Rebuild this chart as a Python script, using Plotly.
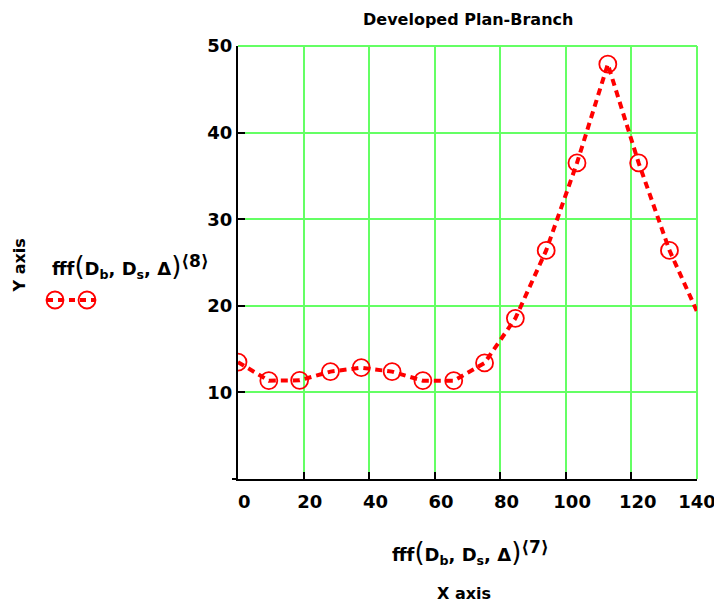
import plotly.graph_objects as go

# ---- data ----
x_vals = [0, 9.4, 18.8, 28.2, 37.6, 47.0, 56.4, 65.8, 75.2, 84.6, 94.0, 103.4, 112.8, 122.2, 131.6, 141.0]
y_vals = [13.5, 11.35, 11.4, 12.4, 12.85, 12.4, 11.35, 11.35, 13.4, 18.55, 26.4, 36.5, 47.9, 36.5, 26.4, 18.5]
x_ticks = [0, 20, 40, 60, 80, 100, 120, 140]
x_tick_labels = ["0", "20", "40", "60", "80", "100", "120", "140"]
y_ticks = [10, 20, 30, 40, 50]
x_range = [0, 140]
y_range = [0, 50]

title_text = "Developed Plan-Branch"
BIGP_L = "<span style='font-size:26px;font-weight:normal'>(</span>"
BIGP_R = "<span style='font-size:26px;font-weight:normal'>)</span>"
series_label = (f"fff{BIGP_L}D<sub>b</sub>, D<sub>s</sub>, Δ{BIGP_R}"
                "<sup><span style='font-size:17px'>⟨8⟩</span></sup>")
x_label_fn = (f"fff{BIGP_L}D<sub>b</sub>, D<sub>s</sub>, Δ{BIGP_R}"
              "<sup><span style='font-size:17px'>⟨7⟩</span></sup>")

FONT = "DejaVu Sans"
RED = "#ff0000"
GREEN = "#64ff64"

# page offset (body margin) compensation; keep page free of a vertical scrollbar
OFF = 8
W, H = 722 - OFF, 611 - 2 * OFF
# plot area in page pixels: x 238..697, y 46..479
L, T = 238 - OFF, 46 - OFF
R = W - (697 - OFF)
B = H - (479 - OFF)
PW, PH = W - L - R, H - T - B


def px(x):
    """page pixel x -> paper"""
    return (x - OFF - L) / PW


def py(y):
    """page pixel y -> paper"""
    return (H - B - (y - OFF)) / PH


# labels sit a little right of their ticks (the last one stays centred so it fits)
NB = "\u00a0"
x_tick_text = [(NB * 2 + t) if v < x_range[1] else t for v, t in zip(x_ticks, x_tick_labels)]

fig = go.Figure()

fig.add_trace(go.Scatter(
    x=x_vals, y=y_vals, mode="lines",
    line=dict(color=RED, width=4, dash="7px,5px"),
    showlegend=False, hoverinfo="skip",
))
mx = [x for x in x_vals if x <= x_range[1]]
my = [y for x, y in zip(x_vals, y_vals) if x <= x_range[1]]
fig.add_trace(go.Scatter(
    x=mx, y=my, mode="markers",
    marker=dict(symbol="circle-open", size=17, color=RED, line=dict(color=RED, width=1.8)),
    showlegend=False,
))

axis_common = dict(
    showline=True, linecolor="black", linewidth=2,
    ticks="inside", ticklen=7, tickwidth=2, tickcolor="black",
    showgrid=True, gridcolor=GREEN, gridwidth=2,
    zeroline=False,
    ticklabeloverflow="allow",
    tickfont=dict(family=FONT, size=18, color="black", weight="bold"),
)

fig.update_xaxes(range=x_range, tickvals=x_ticks, ticktext=x_tick_text,
                 ticklabelstandoff=5, **axis_common)
fig.update_yaxes(range=y_range, tickvals=y_ticks, ticklabelstandoff=0,
                 **axis_common)

annotations = [
    dict(text=f"<b>{title_text}</b>", x=0.5, y=py(20), xref="paper", yref="paper",
         showarrow=False, font=dict(family=FONT, size=16, color="black"),
         xanchor="center", yanchor="middle"),
    dict(text=f"<b>{x_label_fn}</b>", x=px(470), y=py(552), xref="paper", yref="paper",
         showarrow=False, font=dict(family=FONT, size=18, color="black"),
         xanchor="center", yanchor="middle"),
    dict(text="<b>X axis</b>", x=px(464), y=py(593), xref="paper", yref="paper",
         showarrow=False, font=dict(family=FONT, size=16, color="black"),
         xanchor="center", yanchor="middle"),
    dict(text="<b>Y axis</b>", x=px(18.5), y=py(266), xref="paper", yref="paper",
         showarrow=False, textangle=-90, font=dict(family=FONT, size=16, color="black"),
         xanchor="center", yanchor="middle"),
    dict(text=f"<b>{series_label}</b>", x=px(130), y=py(266), xref="paper", yref="paper",
         showarrow=False, font=dict(family=FONT, size=18, color="black"),
         xanchor="center", yanchor="middle"),
]

shapes = [
    # grid lines on the range edges (top and right)
    dict(type="line", xref="paper", yref="paper", x0=0, x1=1, y0=1, y1=1,
         line=dict(color=GREEN, width=2), layer="below"),
    dict(type="line", xref="paper", yref="paper", x0=1, x1=1, y0=0, y1=1,
         line=dict(color=GREEN, width=2), layer="below"),
    # small extension of the x axis line to the left
    dict(type="line", xref="paper", yref="paper", x0=px(232), x1=px(238), y0=0, y1=0,
         line=dict(color="black", width=2)),
    # legend sample: two open circles joined by a dashed line
    dict(type="line", xref="paper", yref="paper", x0=px(47), x1=px(95), y0=py(300), y1=py(300),
         line=dict(color=RED, width=4, dash="6px,5px")),
    dict(type="circle", xref="paper", yref="paper", x0=px(46.5), x1=px(63.5),
         y0=py(291.5), y1=py(308.5), line=dict(color=RED, width=1.8)),
    dict(type="circle", xref="paper", yref="paper", x0=px(78.5), x1=px(95.5),
         y0=py(291.5), y1=py(308.5), line=dict(color=RED, width=1.8)),
]

fig.update_layout(
    width=W, height=H,
    margin=dict(l=L, r=R, t=T, b=B, autoexpand=False),
    paper_bgcolor="white", plot_bgcolor="white",
    annotations=annotations, shapes=shapes,
    showlegend=False,
)

fig.write_html("out.html")
